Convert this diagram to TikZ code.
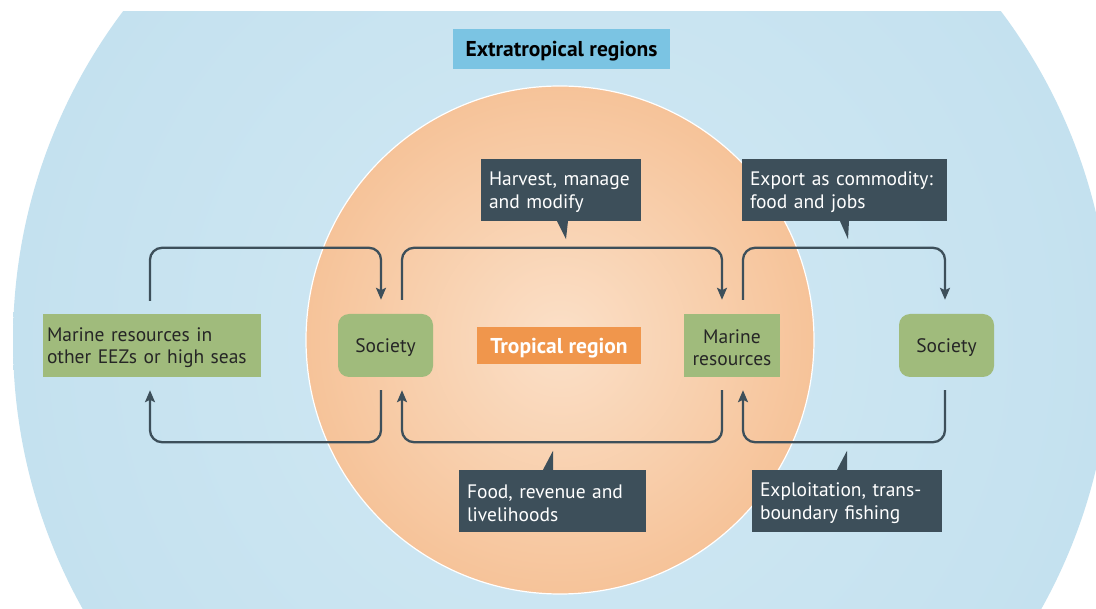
\documentclass[tikz,border=0pt]{standalone}
\usepackage{fontspec}
\setmainfont{PT Sans}
\usetikzlibrary{arrows.meta,calc}
\definecolor{bluebg}{HTML}{C4E1EF}
\definecolor{bluelt}{HTML}{D2E9F4}
\definecolor{orng}{HTML}{F6C399}
\definecolor{orngl}{HTML}{FBE0C8}
\definecolor{grn}{HTML}{A0BB7C}
\definecolor{dark}{HTML}{3D4F5A}
\definecolor{extbox}{HTML}{7BC4E3}
\definecolor{tropbox}{HTML}{F0964C}
\newcommand\mylow{\rule{0pt}{18pt}}
\tikzset{
  txt/.style={font=\fontsize{19.5}{22.5}\selectfont},
  greenbox/.style={txt, fill=grn, text=black!85, align=center, inner sep=0pt, minimum height=63pt},
  roundbox/.style={greenbox, rounded corners=11pt, text depth=0pt},
  callout/.style={txt, fill=dark, text=white, align=left, inner xsep=8pt, inner ysep=0pt, minimum height=62pt},
  label/.style={font=\fontsize{21.5}{24}\selectfont\bfseries, inner sep=0pt, text depth=0pt},
  conn/.style={draw=dark, line width=2.3pt, rounded corners=12pt, -{Stealth[length=12pt,width=10pt,inset=2.5pt]}},
}
\begin{document}
\begin{tikzpicture}[x=1pt,y=-1pt]
\useasboundingbox (0,0) rectangle (1096,609);
\fill[white] (0,0) rectangle (1096,609);
\begin{scope}
  \clip (0,12) rectangle (1096,609);
  \shade[inner color=bluelt, outer color=bluebg] (562,341) circle (549pt);
\end{scope}
\path[shade, inner color=orngl, outer color=orng, draw=white, line width=1.2pt] (560,340) circle (254pt);

% labels
\node[label, fill=extbox, text=black, minimum width=217pt, minimum height=40pt] (ext) at (561.5,49) {Extratropical regions};
\node[label, fill=tropbox, text=white, minimum width=164pt, minimum height=37pt] (trop) at (559,345.5) {Tropical region};

% green boxes
\node[greenbox, text width=210pt, inner xsep=4pt, align=left] (meez) at (152,345.5) {\mbox{\mylow Marine resources in}\\\mbox{other EEZs or high seas}};
\node[roundbox, minimum width=95pt] (soc1) at (385.5,345.5) {Society};
\node[greenbox, minimum width=96pt] (mr) at (732,345.5) {\mylow Marine\\resources};
\node[roundbox, minimum width=95pt] (soc2) at (946.5,345.5) {Society};

% callouts
\node[callout, text width=144pt] (harv) at (561,190) {\mbox{\mylow Harvest, manage}\\\mbox{and modify}};
\node[callout, text width=189pt] (expo) at (844.5,190) {\mbox{\mylow Export as commodity:}\\\mbox{food and jobs}};
\node[callout, text width=171pt] (food) at (552.5,501) {\mbox{\mylow Food, revenue and}\\\mbox{livelihoods}};
\node[callout, text width=174pt] (expl) at (847,501) {\mbox{\mylow Exploitation, trans-}\\\mbox{boundary fishing}};

\fill[dark] ([xshift=-4pt]harv.south) -- ([xshift=7pt]harv.south) -- ([xshift=5pt,yshift=-18pt]harv.south) -- cycle;
\fill[dark] ([xshift=-4.5pt]expo.south) -- ([xshift=4.5pt]expo.south) -- ([xshift=3.5pt,yshift=-18pt]expo.south) -- cycle;
\fill[dark] ([xshift=-9.5pt]food.north) -- ([xshift=0.5pt]food.north) -- ([xshift=0.5pt,yshift=19pt]food.north) -- cycle;
\fill[dark] ([xshift=-10pt]expl.north) -- ([xshift=0pt]expl.north) -- ([xshift=0pt,yshift=19pt]expl.north) -- cycle;

% connectors top
\coordinate (t1s) at ([xshift=-2pt,yshift=13pt]meez.north);
\coordinate (t1e) at ([xshift=-4.5pt,yshift=14pt]soc1.north);
\coordinate (t2s) at ([xshift=16.5pt,yshift=14pt]soc1.north);
\coordinate (t2e) at ([xshift=-10pt,yshift=14pt]mr.north);
\coordinate (t3s) at ([xshift=11pt,yshift=14pt]mr.north);
\coordinate (t3e) at ([xshift=-1.5pt,yshift=14pt]soc2.north);
\draw[conn] (t1s) |- ($(t1e)+(0,-52)$) -- (t1e);
\draw[conn] (t2s) |- ($(t2e)+(0,-52)$) -- (t2e);
\draw[conn] (t3s) |- ($(t3e)+(0,-52)$) -- (t3e);
% connectors bottom
\coordinate (b1s) at ([xshift=-4.5pt,yshift=-13pt]soc1.south);
\coordinate (b1e) at ([xshift=-2pt,yshift=-13pt]meez.south);
\coordinate (b2s) at ([xshift=-10pt,yshift=-13pt]mr.south);
\coordinate (b2e) at ([xshift=16.5pt,yshift=-13pt]soc1.south);
\coordinate (b3s) at ([xshift=-1.5pt,yshift=-13pt]soc2.south);
\coordinate (b3e) at ([xshift=11pt,yshift=-13pt]mr.south);
\draw[conn] (b1s) |- ($(b1e)+(0,52)$) -- (b1e);
\draw[conn] (b2s) |- ($(b2e)+(0,52)$) -- (b2e);
\draw[conn] (b3s) |- ($(b3e)+(0,52)$) -- (b3e);
\end{tikzpicture}
\end{document}
